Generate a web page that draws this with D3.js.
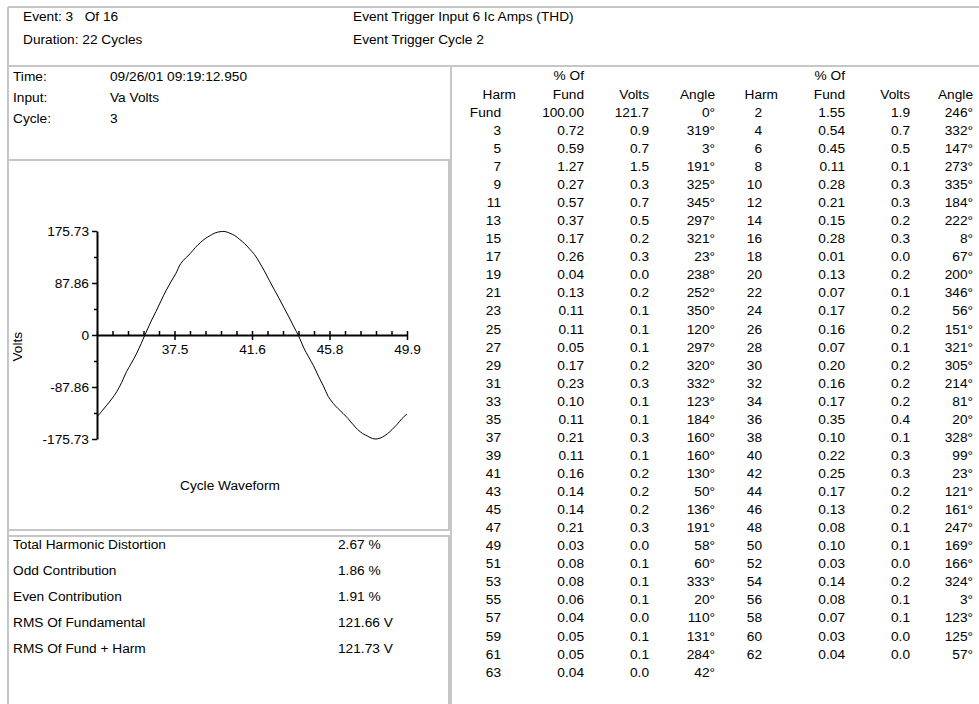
<!DOCTYPE html>
<html>
<head>
<meta charset="utf-8">
<script src="https://cdn.jsdelivr.net/npm/d3@7/dist/d3.min.js"></script>
<style>
  html, body { margin: 0; padding: 0; background: #fff; }
  svg { display: block; }
  text { font-family: "Liberation Sans", Arial, sans-serif; font-size: 13.7px; fill: #000; }
</style>
</head>
<body>
<svg id="chart" width="979" height="704"></svg>
<script>
// ---------------- DATA ----------------
const headerLeft = ["Event: 3   Of 16", "Duration: 22 Cycles"];
const headerRight = ["Event Trigger Input 6 Ic Amps (THD)", "Event Trigger Cycle 2"];
const infoLabels = ["Time:", "Input:", "Cycle:"];
const infoValues = ["09/26/01 09:19:12.950", "Va Volts", "3"];

const statLabels = ["Total Harmonic Distortion", "Odd Contribution", "Even Contribution", "RMS Of Fundamental", "RMS Of Fund + Harm"];
const statValues = ["2.67 %", "1.86 %", "1.91 %", "121.66 V", "121.73 V"];

// waveform: volts sampled at uniform time steps (ms) across the cycle
const sampleStartMs = 33.33;
const sampleIntervalMs = 0.2635;
const waveformVolts = [
  -138.8, -128.5, -118.5, -108.0, -96.0, -80.5, -62.0, -47.5,
  -32.0, -14.0, 5.0, 23.5, 40.0, 57.5, 74.5, 89.5,
  103.5, 120.5, 130.0, 138.0, 148.0, 156.0, 163.0, 168.0,
  172.5, 174.5, 174.8, 172.0, 168.0, 161.5, 154.5, 145.5,
  136.0, 123.0, 108.5, 92.5, 77.0, 62.0, 46.0, 30.5,
  14.0, -2.0, -21.5, -37.0, -52.0, -69.5, -86.0, -104.0,
  -115.5, -124.5, -132.5, -141.0, -151.0, -160.0, -166.5, -171.0,
  -175.0, -175.5, -172.5, -167.0, -159.5, -151.0, -141.0, -133.5
];
const xDomainMs = [33.33, 49.93];
const xTickValues = [37.48, 41.63, 45.78, 49.93];
const xTickLabels = ["37.5", "41.6", "45.8", "49.9"];
const yDomain = [-175.73, 175.73];
const yTickValues = [175.73, 87.86, 0, -87.86, -175.73];
const yTickLabels = ["175.73", "87.86", "0", "-87.86", "-175.73"];
const yAxisTitle = "Volts";
const chartTitle = "Cycle Waveform";

const tableHeaderTop = ["", "% Of", "", "", "", "% Of", "", ""];
const tableHeader = ["Harm", "Fund", "Volts", "Angle", "Harm", "Fund", "Volts", "Angle"];

const oddHarmonics = ["Fund", 3, 5, 7, 9, 11, 13, 15, 17, 19, 21, 23, 25, 27, 29, 31, 33, 35, 37, 39, 41, 43, 45, 47, 49, 51, 53, 55, 57, 59, 61, 63];
const oddPctFund = [100.00, 0.72, 0.59, 1.27, 0.27, 0.57, 0.37, 0.17, 0.26, 0.04, 0.13, 0.11, 0.11, 0.05, 0.17, 0.23, 0.10, 0.11, 0.21, 0.11, 0.16, 0.14, 0.14, 0.21, 0.03, 0.08, 0.08, 0.06, 0.04, 0.05, 0.05, 0.04];
const oddVolts = [121.7, 0.9, 0.7, 1.5, 0.3, 0.7, 0.5, 0.2, 0.3, 0.0, 0.2, 0.1, 0.1, 0.1, 0.2, 0.3, 0.1, 0.1, 0.3, 0.1, 0.2, 0.2, 0.2, 0.3, 0.0, 0.1, 0.1, 0.1, 0.0, 0.1, 0.1, 0.0];
const oddAngle = [0, 319, 3, 191, 325, 345, 297, 321, 23, 238, 252, 350, 120, 297, 320, 332, 123, 184, 160, 160, 130, 50, 136, 191, 58, 60, 333, 20, 110, 131, 284, 42];

const evenHarmonics = [2, 4, 6, 8, 10, 12, 14, 16, 18, 20, 22, 24, 26, 28, 30, 32, 34, 36, 38, 40, 42, 44, 46, 48, 50, 52, 54, 56, 58, 60, 62];
const evenPctFund = [1.55, 0.54, 0.45, 0.11, 0.28, 0.21, 0.15, 0.28, 0.01, 0.13, 0.07, 0.17, 0.16, 0.07, 0.20, 0.16, 0.17, 0.35, 0.10, 0.22, 0.25, 0.17, 0.13, 0.08, 0.10, 0.03, 0.14, 0.08, 0.07, 0.03, 0.04];
const evenVolts = [1.9, 0.7, 0.5, 0.1, 0.3, 0.3, 0.2, 0.3, 0.0, 0.2, 0.1, 0.2, 0.2, 0.1, 0.2, 0.2, 0.2, 0.4, 0.1, 0.3, 0.3, 0.2, 0.2, 0.1, 0.1, 0.0, 0.2, 0.1, 0.1, 0.0, 0.0];
const evenAngle = [246, 332, 147, 273, 335, 184, 222, 8, 67, 200, 346, 56, 151, 321, 305, 214, 81, 20, 328, 99, 23, 121, 161, 247, 169, 166, 324, 3, 123, 125, 57];

// ---------------- DRAW ----------------
const svg = d3.select("#chart");
const border = "#c6c6c6";

// frames
const frame = svg.append("g").attr("fill", "none").attr("stroke", border).attr("stroke-width", 2);
frame.append("path").attr("d", "M8,7H979M8,66H979M8,7V704");
frame.append("path").attr("d", "M8,160H449V530H8M8,536H449V704M451,66V704");

// header texts
svg.append("g").selectAll("text").data(headerLeft).join("text")
  .attr("x", 23).attr("y", (d, i) => 20.8 + i * 23.5)
  .style("white-space", "pre").text(d => d);
svg.append("g").selectAll("text").data(headerRight).join("text")
  .attr("x", 353).attr("y", (d, i) => 20.8 + i * 23.5).text(d => d);

// info panel
svg.append("g").selectAll("text").data(infoLabels).join("text")
  .attr("x", 13).attr("y", (d, i) => 80.8 + i * 21.2).text(d => d);
svg.append("g").selectAll("text").data(infoValues).join("text")
  .attr("x", 110).attr("y", (d, i) => 80.8 + i * 21.2).text(d => d);

// stats panel
svg.append("g").selectAll("text").data(statLabels).join("text")
  .attr("x", 13).attr("y", (d, i) => 549.2 + i * 26).text(d => d);
svg.append("g").selectAll("text").data(statValues).join("text")
  .attr("x", 338).attr("y", (d, i) => 549.2 + i * 26).text(d => d);

// chart
const x = d3.scaleLinear().domain(xDomainMs).range([97, 407]);
const y = d3.scaleLinear().domain(yDomain).range([439, 231]);

const yMinor = d3.range(4).map(i => yDomain[0] + (i + 0.5) * (yDomain[1] - yDomain[0]) / 4);
const xMinor = d3.range(21).map(i => xDomainMs[0] + i * (xDomainMs[1] - xDomainMs[0]) / 20);

function styleAxis(g) {
  g.attr("font-family", null).attr("font-size", null);
  g.select(".domain").attr("stroke", "#000").attr("stroke-width", 2);
  g.selectAll(".tick line").attr("stroke", "#000").attr("stroke-width", 1.5);
  g.selectAll(".tick text").attr("fill", "#000");
}

// y axis
svg.append("g").attr("transform", "translate(97,0)")
  .call(d3.axisLeft(y).tickValues(yMinor).tickSize(3).tickSizeOuter(0).tickFormat(""))
  .call(g => { styleAxis(g); g.select(".domain").remove(); });
svg.append("g").attr("transform", "translate(97,0)")
  .call(d3.axisLeft(y).tickValues(yTickValues).tickSize(5).tickPadding(3).tickSizeOuter(0)
    .tickFormat((d, i) => yTickLabels[i]))
  .call(styleAxis);

// x axis (at zero line)
svg.append("g").attr("transform", `translate(0,${y(0)})`)
  .call(d3.axisTop(x).tickValues(xMinor).tickSize(4).tickSizeOuter(0).tickFormat(""))
  .call(g => { styleAxis(g); g.select(".domain").remove(); });
svg.append("g").attr("transform", `translate(0,${y(0)})`)
  .call(d3.axisBottom(x).tickValues(xTickValues).tickSize(5).tickPadding(4).tickSizeOuter(0)
    .tickFormat((d, i) => xTickLabels[i]))
  .call(styleAxis);

// waveform line
const line = d3.line()
  .x((d, i) => x(sampleStartMs + i * sampleIntervalMs))
  .y(d => y(d))
  .curve(d3.curveCatmullRom.alpha(0.5));
svg.append("path").datum(waveformVolts)
  .attr("fill", "none").attr("stroke", "#000").attr("stroke-width", 1)
  .attr("d", line);

// axis title and chart title
svg.append("text").attr("transform", "translate(21.8,346.7) rotate(-90)")
  .attr("text-anchor", "middle").text(yAxisTitle);
svg.append("text").attr("x", 230).attr("y", 489.8).attr("text-anchor", "middle").text(chartTitle);

// harmonics table
const headerRightEdges = [516, 584, 649, 715, 778, 845, 910, 973];
const dataRightEdges = [501, 584, 649, 715, 762, 845, 910, 973];
const rowY0 = 116.8, rowStep = 18.06;

const tbl = svg.append("g").attr("text-anchor", "end");
tbl.selectAll("text.top").data(tableHeaderTop.map((t, i) => ({t, i})).filter(d => d.t)).join("text")
  .attr("class", "top").attr("x", d => headerRightEdges[d.i]).attr("y", 79.8).text(d => d.t);
tbl.selectAll("text.hdr").data(tableHeader).join("text")
  .attr("class", "hdr").attr("x", (d, i) => headerRightEdges[i]).attr("y", 98.8).text(d => d);

const oddRows = oddHarmonics.map((h, i) => [String(h), oddPctFund[i].toFixed(2), oddVolts[i].toFixed(1), oddAngle[i] + "°"]);
const evenRows = evenHarmonics.map((h, i) => [String(h), evenPctFund[i].toFixed(2), evenVolts[i].toFixed(1), evenAngle[i] + "°"]);

function drawRows(rows, colOffset) {
  const g = tbl.append("g");
  const r = g.selectAll("g").data(rows).join("g")
    .attr("transform", (d, i) => `translate(0,${rowY0 + i * rowStep})`);
  r.selectAll("text").data(d => d).join("text")
    .attr("x", (d, j) => dataRightEdges[j + colOffset]).attr("y", 0).text(d => d);
}
drawRows(oddRows, 0);
drawRows(evenRows, 4);
</script>
</body>
</html>
